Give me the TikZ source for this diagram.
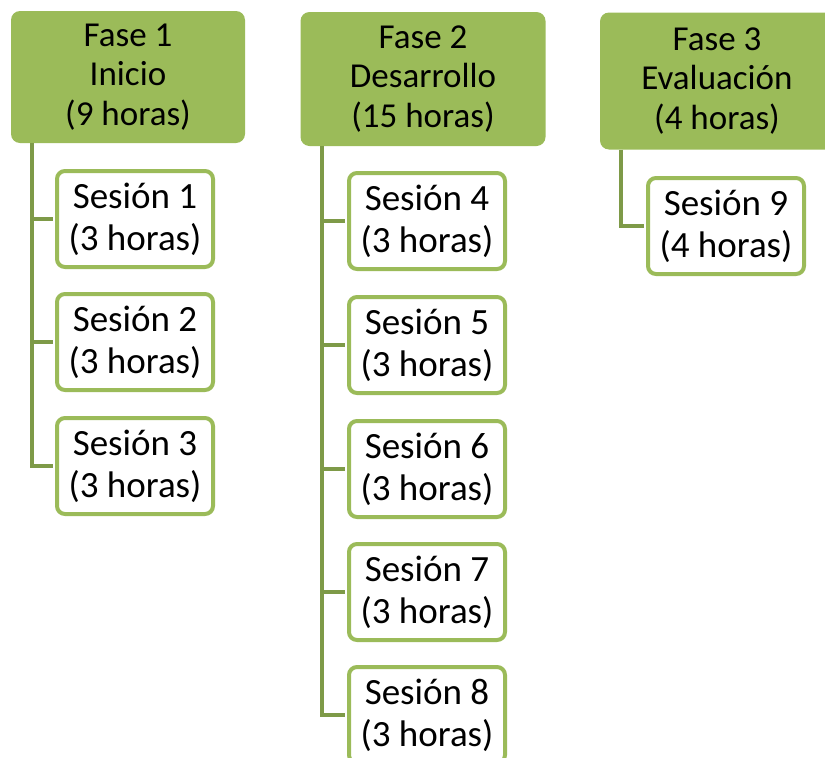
\documentclass[tikz,border=0pt]{standalone}
\usepackage{fontspec}
\setmainfont{Carlito}
\usepackage{tikz}
\usetikzlibrary{positioning}
\definecolor{hoja}{HTML}{9BBB59}
\definecolor{tallo}{HTML}{7E9A48}

\begin{document}
\begin{tikzpicture}[x=1pt, y=-1pt,
    fase/.style={fill=hoja, rounded corners=9pt, align=center, inner sep=0pt,
        minimum width=234pt, minimum height=132pt, font=\fontsize{35}{39.5}\selectfont},
    sesion/.style={draw=hoja, line width=4pt, fill=white, rounded corners=8pt, align=center,
        inner sep=0pt, minimum width=156pt, minimum height=96pt, font=\fontsize{37}{42}\selectfont},
    rama/.style={draw=tallo, line width=4pt, shorten >=2pt}]
    \useasboundingbox (0,0) rectangle (825,758);

    % fases
    \node[fase] (f1) at (128,77) {Fase 1\\Inicio\\(9 horas)};
    \node[fase, minimum width=245pt, minimum height=134pt] (f2) at (423,79) {Fase 2\\Desarrollo\\(15 horas)};
    \node[fase, minimum height=137pt] (f3) at (717,81) {Fase 3\\Evaluación\\(4 horas)};

    % sesiones
    \node[sesion] (s1) at (135,219) {Sesión 1\\(3 horas)};
    \node[sesion] (s2) at (135,342) {Sesión 2\\(3 horas)};
    \node[sesion] (s3) at (135,466) {Sesión 3\\(3 horas)};
    \node[sesion] (s4) at (427,221) {Sesión 4\\(3 horas)};
    \node[sesion] (s5) at (427,345) {Sesión 5\\(3 horas)};
    \node[sesion] (s6) at (427,469) {Sesión 6\\(3 horas)};
    \node[sesion] (s7) at (427,592) {Sesión 7\\(3 horas)};
    \node[sesion] (s8) at (427,715) {Sesión 8\\(3 horas)};
    \node[sesion] (s9) at (726,226) {Sesión 9\\(4 horas)};

    % ramas
    \draw[rama] ([xshift=21pt]f1.south west) |- (s1.west);
    \draw[rama] ([xshift=21pt]f1.south west) |- (s2.west);
    \draw[rama] ([xshift=21pt]f1.south west) |- (s3.west);
    \draw[rama] ([xshift=22pt]f2.south west) |- (s4.west);
    \draw[rama] ([xshift=22pt]f2.south west) |- (s5.west);
    \draw[rama] ([xshift=22pt]f2.south west) |- (s6.west);
    \draw[rama] ([xshift=22pt]f2.south west) |- (s7.west);
    \draw[rama] ([xshift=22pt]f2.south west) |- (s8.west);
    \draw[rama] ([xshift=21pt]f3.south west) |- (s9.west);
\end{tikzpicture}
\end{document}
